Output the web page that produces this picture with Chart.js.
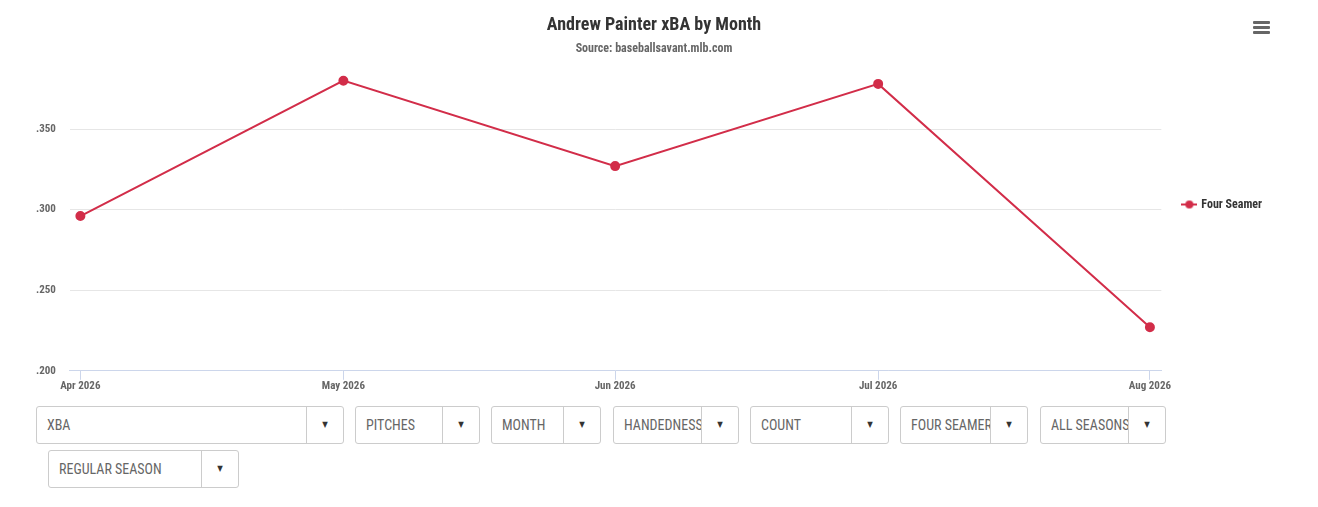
<!DOCTYPE html>
<html>
<head>
<meta charset="utf-8">
<script src="https://cdn.jsdelivr.net/npm/chart.js@4"></script>
<style>
  body { margin: 0; background: #fff; font-family: "Roboto Condensed", "Liberation Sans Narrow", "DejaVu Sans Condensed", Roboto, sans-serif; }
  #wrap { position: relative; width: 1308px; height: 400px; }
  #menu { position: absolute; left: 1253px; top: 21px; width: 17px; }
  #menu span { display: block; height: 3px; background: #666; margin-bottom: 2px; border-radius: 1px; }
  .sel { position: absolute; height: 36px; border: 1px solid #ccc; border-radius: 3px; box-sizing: content-box;
         color: #666; font-size: 14px; line-height: 36px; }
  .sel .txt { position: absolute; left: 10px; top: 0; overflow: hidden; white-space: nowrap; }
  .sel .arr { position: absolute; top: 0; right: 0; width: 36px; height: 36px; border-left: 1px solid #ccc;
              text-align: center; font-size: 8px; color: #333; }
</style>
</head>
<body>
<div id="wrap">
  <canvas id="xbaChart"></canvas>
  <div id="menu"><span></span><span></span><span></span></div>
</div>
<div id="selects"></div>
<script>
// dados: xBA por mês
const months = ['Apr 2026', 'May 2026', 'Jun 2026', 'Jul 2026', 'Aug 2026'];
const dayOffsets = [0, 30, 61, 91, 122]; // dias desde 1 de abril
const xbaValues = [0.296, 0.380, 0.327, 0.378, 0.227];
const yTicks = [0.200, 0.250, 0.300, 0.350];
const filterLabels = ['XBA', 'PITCHES', 'MONTH', 'HANDEDNESS', 'COUNT', 'FOUR SEAMER', 'ALL SEASONS', 'REGULAR SEASON'];

const lineRed = '#d22d49';
const fontFam = '"Roboto Condensed", "Liberation Sans Narrow", "DejaVu Sans Condensed", Roboto, sans-serif';

// símbolo da legenda: linha com bolinha
const sym = document.createElement('canvas');
sym.width = 16; sym.height = 10;
const sc = sym.getContext('2d');
sc.strokeStyle = lineRed; sc.lineWidth = 2;
sc.beginPath(); sc.moveTo(0, 5); sc.lineTo(16, 5); sc.stroke();
sc.fillStyle = lineRed;
sc.beginPath(); sc.arc(8, 5, 4, 0, Math.PI * 2); sc.fill();

// ajustes finos: legenda um pouco abaixo, títulos um pouco à direita
const nudge = {
  id: 'nudge',
  afterLayout: ch => {
    if (ch.legend) { ch.legend.top += 5; ch.legend.bottom += 5; }
    ch.boxes.forEach(b => {
      if (b.position === 'top' && b.options && b.options.text) { b.left += 7; b.right += 7; }
    });
  }
};

const cv = document.getElementById('xbaChart');
cv.width = 1308; cv.height = 400;

new Chart(cv.getContext('2d'), {
  type: 'line',
  data: {
    datasets: [{
      label: 'Four Seamer',
      data: dayOffsets.map((d, i) => ({ x: d, y: xbaValues[i] })),
      borderColor: lineRed,
      backgroundColor: lineRed,
      borderWidth: 2,
      pointRadius: 4,
      pointHoverRadius: 5,
      tension: 0
    }]
  },
  options: {
    responsive: false,
    animation: false,
    layout: { padding: { left: 22, right: 36, top: 6, bottom: 7 } },
    scales: {
      x: {
        type: 'linear',
        min: -1.2,
        max: 123.3,
        afterBuildTicks: s => { s.ticks = dayOffsets.map(v => ({ value: v })); },
        ticks: {
          autoSkip: false,
          maxRotation: 0,
          padding: 0,
          color: '#666',
          font: { family: fontFam, size: 11, weight: 'bold' },
          callback: v => months[dayOffsets.indexOf(v)]
        },
        grid: { drawOnChartArea: false, drawTicks: true, tickLength: 9, color: '#ccd6eb' },
        border: { color: '#ccd6eb' }
      },
      y: {
        min: 0.2,
        max: 0.386,
        afterBuildTicks: s => { s.ticks = yTicks.map(v => ({ value: v })); },
        ticks: {
          padding: 14,
          color: '#666',
          font: { family: fontFam, size: 11, weight: 'bold' },
          callback: v => v.toFixed(3).replace(/^0/, '')
        },
        grid: { color: '#e6e6e6', drawTicks: false },
        border: { display: false }
      }
    },
    plugins: {
      title: {
        display: true,
        text: 'Andrew Painter xBA by Month',
        color: '#333',
        font: { family: fontFam, size: 18, weight: 'bold' },
        padding: { top: 9, bottom: 5 }
      },
      subtitle: {
        display: true,
        text: 'Source: baseballsavant.mlb.com',
        color: '#666',
        font: { family: fontFam, size: 12, weight: 'bold' },
        padding: { bottom: 15 }
      },
      legend: {
        position: 'right',
        labels: {
          usePointStyle: true,
          padding: 22,
          color: '#333',
          font: { family: fontFam, size: 12, weight: 'bold' },
          generateLabels: ch => ch.data.datasets.map((ds, i) => ({
            text: ds.label, pointStyle: sym, fontColor: '#333', datasetIndex: i, hidden: false, lineWidth: 0
          }))
        }
      },
      tooltip: { enabled: true }
    }
  },
  plugins: [nudge]
});

// caixas de seleção abaixo do gráfico
const selBoxes = [
  [36, 406, 306], [355, 406, 123], [491, 406, 108], [613, 406, 124],
  [750, 406, 137], [900, 406, 126], [1040, 406, 124], [48, 450, 189]
];
const selHost = document.getElementById('selects');
filterLabels.forEach((lab, i) => {
  const [l, t, w] = selBoxes[i];
  const d = document.createElement('div');
  d.className = 'sel';
  d.style.left = l + 'px'; d.style.top = t + 'px'; d.style.width = w + 'px';
  d.innerHTML = '<div class="txt" style="width:' + (w - 46) + 'px">' + lab + '</div><div class="arr">&#9660;</div>';
  selHost.appendChild(d);
});
</script>
</body>
</html>
